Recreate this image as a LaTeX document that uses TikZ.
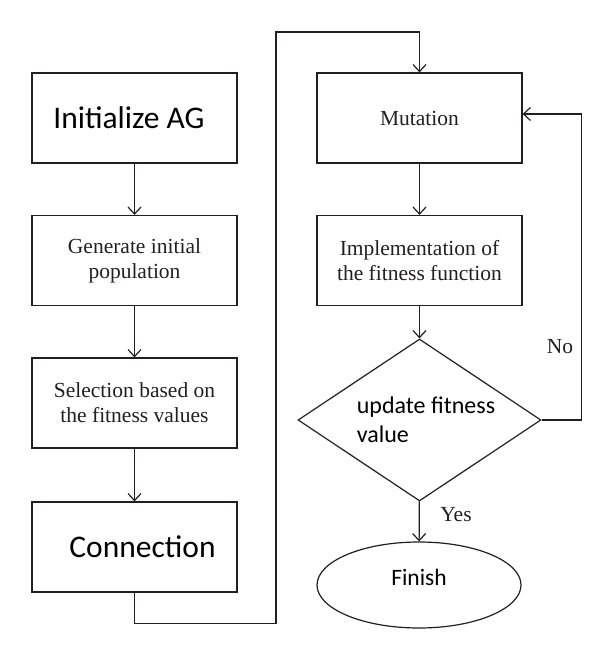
\documentclass[tikz,border=0pt]{standalone}
\usepackage{fontspec}
\setmainfont{Liberation Serif}
\newfontfamily\calib{Carlito}
\usetikzlibrary{shapes.geometric,arrows.meta}
\definecolor{ink}{HTML}{231F20}
\begin{document}
\begin{tikzpicture}[x=1pt,y=-1pt,
    box/.style={draw=ink,line width=1.2pt,minimum width=205pt,minimum height=90pt,
      inner sep=2pt,align=center,text=ink,font=\fontsize{21.5}{25}\selectfont},
    cal/.style={text=black,font=\calib\fontsize{31.5}{36}\selectfont},
    lbl/.style={text=ink,font=\fontsize{21.5}{25}\selectfont},
    arr/.style={draw=ink,line width=1.2pt,-{Straight Barb[length=7pt,width=13pt]}}]
        \useasboundingbox (0,0) rectangle (613,660);

        %% left column
        \node (init) at (134.5,118) [box,cal] {Initialize AG\hspace*{11pt}};
        \node (gen) at (134.5,260.5) [box] {Generate initial\\population};
        \node (sel) at (134.5,403) [box] {Selection based on\\the fitness values};
        \node (conn) at (134.5,547) [box,cal] {\hspace*{16pt}Connection};

        %% right column
        \node (mut) at (419.5,118) [box] {Mutation};
        \node (impl) at (419.5,260.5) [box] {Implementation of\\the fitness function};
        \node (upd) at (419.5,420) [draw=ink,diamond,aspect=1.5,line width=1.2pt,
          minimum width=243pt,minimum height=162pt,inner sep=-8pt,align=left,
          font=\calib\fontsize{24}{29}\selectfont] {\hspace*{13pt}update fitness\\\hspace*{13pt}value};
        \node (fin) at (419,585) [draw=ink,ellipse,line width=1.2pt,minimum width=204pt,
          minimum height=86pt,inner sep=0pt,text depth=16pt,
          font=\calib\fontsize{23.5}{28}\selectfont] {Finish};

        %% labels
        \node (no) at (560,347) [lbl] {No};
        \node (yes) at (456,515) [lbl] {Yes};

        %% arrows
        \draw[arr] (init) -- (gen);
        \draw[arr] (gen) -- (sel);
        \draw[arr] (sel) -- (conn);
        \draw[arr] (conn.south) -- ++(0,31) -| (276,32) -| (mut.north);
        \draw[arr] (mut) -- (impl);
        \draw[arr] (impl) -- (upd);
        \draw[arr] (upd.east) -- ++(40,0) |- ([yshift=4pt]mut.east);
        \draw[arr] (upd) -- (fin);
      \end{tikzpicture}
\end{document}
